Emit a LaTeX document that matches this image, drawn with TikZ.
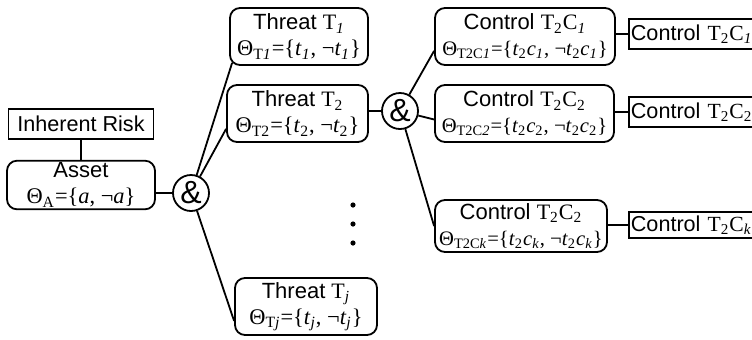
\documentclass[tikz,border=0pt]{standalone}
\usepackage{fontspec}
\setmainfont{Liberation Sans}
\newfontfamily\tms{Liberation Serif}
\usetikzlibrary{positioning, calc}
\newcommand{\sbs}[1]{\textsubscript{#1}}
\newcommand{\ti}[1]{\textit{#1}}
\newcommand{\fml}[1]{{\tms\fontsize{11.2}{13}\selectfont #1}}
\newcommand{\cfml}[1]{{\tms\fontsize{10.3}{13}\selectfont #1}}

\begin{document}
\begin{tikzpicture}[x=0.5pt, y=-0.5pt, line width=0.9pt,
    rbox/.style={draw, rounded corners=5pt, align=center, inner sep=1pt,
                 minimum height=28.5pt, font=\fontsize{11}{13}\selectfont},
    tagbox/.style={draw, inner sep=1pt, minimum height=15pt,
                   font=\fontsize{10.8}{12}\selectfont},
    andnode/.style={draw, circle, minimum size=18pt, inner sep=0pt,
                    font=\fontsize{16}{16}\selectfont}
  ]
  \clip (0,0) rectangle (752,339);
  % asset side
  \node[tagbox, minimum width=72.5pt] (risk) at (81,124) {Inherent Risk};
  \node[rbox, minimum width=74pt, minimum height=22pt] (asset) at (81,185)
    {Asset\\\fml{Θ\sbs{A}=\{\ti{a}, ¬\ti{a}\}}};
  \node[andnode] (and1) at (191,193) {\&};
  % threats
  \node[rbox, minimum width=69pt] (t1) at (299,36.5)
    {Threat {\tms T\sbs{\ti{1}}}\\\fml{Θ\sbs{T\ti{1}}=\{\ti{t}\sbs{\ti{1}}, ¬\ti{t}\sbs{\ti{1}}\}}};
  \node[rbox, minimum width=70.5pt] (t2) at (297.5,113.5)
    {Threat {\tms T\sbs{2}}\\\fml{Θ\sbs{T2}=\{\ti{t}\sbs{2}, ¬\ti{t}\sbs{2}\}}};
  \node[rbox, minimum width=71pt] (tj) at (306,306.5)
    {Threat {\tms T\sbs{\ti{j}}}\\\fml{Θ\sbs{T\ti{j}}=\{\ti{t}\sbs{\ti{j}}, ¬\ti{t}\sbs{\ti{j}}\}}};
  \foreach \y in {205,224,243}
    \fill (353,\y) circle (2.6);
  \node[andnode] (and2) at (400,111) {\&};
  % controls
  \node[rbox, minimum width=90pt] (c1) at (525,36.5)
    {Control {\tms T\sbs{2}C\sbs{\ti{1}}}\\\cfml{Θ\sbs{T2C\ti{1}}=\{\ti{t}\sbs{2}\ti{c}\sbs{\ti{1}}, ¬\ti{t}\sbs{2}\ti{c}\sbs{\ti{1}}\}}};
  \node[rbox, minimum width=89.5pt] (c2) at (524.5,113.5)
    {Control {\tms T\sbs{2}C\sbs{2}}\\\cfml{Θ\sbs{T2C\ti{2}}=\{\ti{t}\sbs{2}\ti{c}\sbs{2}, ¬\ti{t}\sbs{2}\ti{c}\sbs{2}\}}};
  \node[rbox, minimum width=86pt, minimum height=26pt] (ck) at (521,226)
    {Control {\tms T\sbs{2}C\sbs{2}}\\\cfml{Θ\sbs{T2C\ti{k}}=\{\ti{t}\sbs{2}\ti{c}\sbs{\ti{k}}, ¬\ti{t}\sbs{2}\ti{c}\sbs{\ti{k}}\}}};
  \node[tagbox, anchor=west, text width=66pt, align=left] (r1) at (628,34) {Control {\tms T\sbs{2}C\sbs{\ti{1}}}};
  \node[tagbox, anchor=west, text width=66pt, align=left] (r2) at (628,112) {Control {\tms T\sbs{2}C\sbs{2}}};
  \node[tagbox, anchor=west, text width=66pt, align=left, minimum height=13pt] (rk) at (628,225) {Control {\tms T\sbs{2}C\sbs{\ti{k}}}};
  % connectors
  \draw (risk) -- (asset);
  \draw (and1.west) -- (and1.west -| asset.east);
  \draw (and1) -- ($(t1.south west)+(3,-3)$);
  \draw (and1) -- ($(t2.south west)+(0,-14)$);
  \draw (and1) -- ($(tj.south west)+(0,-15)$);
  \draw (and2.west) -- (and2.west -| t2.east);
  \draw (and2) -- ($(c1.south west)+(0,-15)$);
  \draw (and2) -- ($(c2.west)+(0,6)$);
  \draw (and2) -- (ck.west);
  \draw (r1.west) -- (r1.west -| c1.east);
  \draw (r2.west) -- (r2.west -| c2.east);
  \draw (rk.west) -- (rk.west -| ck.east);
\end{tikzpicture}
\end{document}
